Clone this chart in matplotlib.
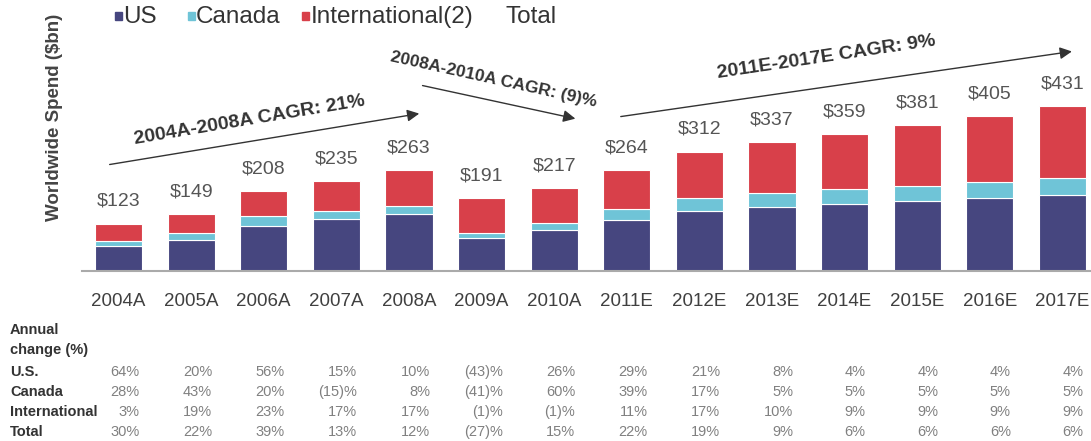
import numpy as np
import matplotlib
matplotlib.use('Agg')
import matplotlib.pyplot as plt
from matplotlib.patches import Rectangle
from matplotlib import transforms

plt.rcParams['font.family'] = ['Liberation Sans', 'DejaVu Sans']

# data ($bn)
years = ['2004A', '2005A', '2006A', '2007A', '2008A', '2009A', '2010A',
         '2011E', '2012E', '2013E', '2014E', '2015E', '2016E', '2017E']
us = [63, 79, 118, 135, 147, 85, 105, 132, 157, 167, 175, 182, 189, 198]
canada = [15, 19, 24, 21, 22, 13, 19, 29, 34, 37, 39, 40, 42, 44]
intl = [45, 51, 66, 79, 94, 93, 93, 103, 121, 133, 145, 159, 174, 189]
totals = [123, 149, 208, 235, 263, 191, 217, 264, 312, 337, 359, 381, 405, 431]

# annual change table
row_names = ['U.S.', 'Canada', 'International', 'Total']
us_chg = ['64%', '20%', '56%', '15%', '10%', '(43)%', '26%', '29%', '21%', '8%', '4%', '4%', '4%', '4%']
can_chg = ['28%', '43%', '20%', '(15)%', '8%', '(41)%', '60%', '39%', '17%', '5%', '5%', '5%', '5%', '5%']
intl_chg = ['3%', '19%', '23%', '17%', '17%', '(1)%', '(1)%', '11%', '17%', '10%', '9%', '9%', '9%', '9%']
tot_chg = ['30%', '22%', '39%', '13%', '12%', '(27)%', '15%', '22%', '19%', '9%', '6%', '6%', '6%', '6%']

series_names = ['US', 'Canada', 'International(2)']
colors = ['#46467f', '#6fc4d7', '#d8404a']

W, H = 1091, 441
fig = plt.figure(figsize=(W / 100, H / 100), dpi=100)
ax = fig.add_axes([82 / W, 1 - 270.5 / H, 1 - 82 / W, 270.5 / H])

x = np.arange(len(years))
bw = 0.65
ax.bar(x, us, bw, color=colors[0], edgecolor='white', linewidth=0.8)
ax.bar(x, canada, bw, bottom=us, color=colors[1], edgecolor='white', linewidth=0.8)
bottom2 = np.array(us) + np.array(canada)
ax.bar(x, intl, bw, bottom=bottom2, color=colors[2], edgecolor='white', linewidth=0.8)

for xi, t in zip(x, totals):
    ax.annotate('$%d' % t, (xi, t), xytext=(0, 16), textcoords='offset points',
                ha='center', va='center', fontsize=14, color='#555555')

ax.set_xlim(-0.503, 13.395)
ax.set_ylim(0, 710)
ax.set_yticks([])
for s in ['top', 'right', 'left']:
    ax.spines[s].set_visible(False)
ax.spines['bottom'].set_color('#aaaaaa')
ax.spines['bottom'].set_linewidth(1.5)
ax.set_xticks(x)
ax.set_xticklabels(years, fontsize=13.5, color='#404040')
ax.tick_params(axis='x', length=0, pad=16)

# CAGR arrows
arw = dict(arrowstyle='-|>', color='#333333', lw=1.0, mutation_scale=18)
ax.annotate('', xy=(4.18, 413), xytext=(-0.16, 277), arrowprops=arw, annotation_clip=False)
ax.annotate('', xy=(6.33, 397), xytext=(4.15, 487), arrowprops=arw, annotation_clip=False)
ax.annotate('', xy=(13.17, 576), xytext=(6.88, 403), arrowprops=arw, annotation_clip=False)
ax.text(1.81, 395, '2004A-2008A CAGR: 21%', rotation=9.5, ha='center', va='center',
        fontsize=14, fontweight='bold', color='#333333', rotation_mode='anchor')
ax.text(5.16, 500, '2008A-2010A CAGR: (9)%', rotation=-12.5, ha='center', va='center',
        fontsize=12.5, fontweight='bold', color='#333333', rotation_mode='anchor')
ax.text(9.75, 560, '2011E-2017E CAGR: 9%', rotation=8.5, ha='center', va='center',
        fontsize=14, fontweight='bold', color='#333333', rotation_mode='anchor')

# y label
fig.text(55 / W, 1 - 117 / H, 'Worldwide Spend ($bn)', rotation=90, ha='center', va='center',
         fontsize=13.5, fontweight='bold', color='#444444')

# legend
sq_x = [115, 188, 302]
txt_x = [123, 196, 311]
for sx, tx, name, c in zip(sq_x, txt_x, series_names, colors):
    fig.patches.append(Rectangle((sx / W, 1 - 20 / H), 7 / W, 8 / H, color=c,
                                 transform=fig.transFigure, figure=fig))
    fig.text(tx / W, 1 - 17 / H, name, ha='left', va='center', fontsize=17.5, color='#333333')
fig.text(506 / W, 1 - 17 / H, 'Total', ha='left', va='center', fontsize=17.5, color='#333333')

# annual change table
fig.text(10 / W, 1 - 330 / H, 'Annual', ha='left', va='center', fontsize=10.5,
         fontweight='bold', color='#333333')
fig.text(10 / W, 1 - 350 / H, 'change (%)', ha='left', va='center', fontsize=10.5,
         fontweight='bold', color='#333333')
trans = transforms.blended_transform_factory(ax.transData, fig.transFigure)
rows = [us_chg, can_chg, intl_chg, tot_chg]
row_y = [372, 392, 412, 432]
for name, vals, ry in zip(row_names, rows, row_y):
    fig.text(10 / W, 1 - ry / H, name, ha='left', va='center', fontsize=10.5,
             fontweight='bold', color='#333333')
    for xi, v in zip(x, vals):
        ax.text(xi + 0.29, 1 - ry / H, v, transform=trans, ha='right', va='center',
                fontsize=10.5, color='#808080')

fig.savefig('out.png', dpi=100)
